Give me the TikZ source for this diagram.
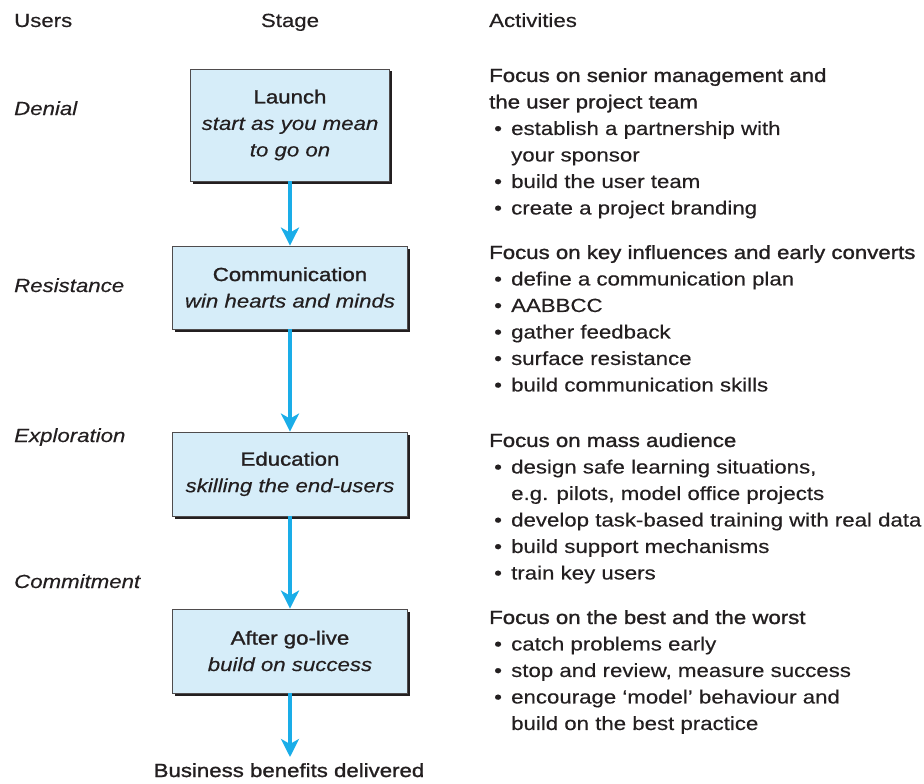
\documentclass[tikz,border=0pt]{standalone}
\usepackage{fontspec}
\setmainfont[FakeStretch=1.17,FakeBold=0.35]{Liberation Sans}
\newfontfamily\semibold[FakeStretch=1.17,FakeBold=1.3]{Liberation Sans}
\usetikzlibrary{arrows.meta,shadows}
\definecolor{stagefill}{HTML}{D6EDF9}
\definecolor{flowcyan}{HTML}{1AADE8}
\definecolor{ink}{HTML}{231F20}
\newcommand{\itm}{\hspace*{5pt}\makebox[17pt][l]{\textbullet}}
\newcommand{\cnt}{\hspace*{22pt}}
\begin{document}
\begin{tikzpicture}[x=1pt,y=-1pt,>={Stealth[length=18pt,width=18pt,inset=5pt]},
  every node/.style={inner sep=0pt,text=ink,font=\fontsize{19}{26.5}\selectfont},
  stage/.style={draw=ink!80,line width=0.8pt,fill=stagefill,align=center,
    drop shadow={shadow xshift=2.5pt,shadow yshift=-2.5pt,fill=ink,opacity=1}},
  users/.style={anchor=base west,font=\fontsize{19}{26.5}\selectfont\itshape},
  activity/.style={anchor=north west,align=left},
  flow/.style={draw=flowcyan,line width=3.2pt}]
\useasboundingbox (0,0) rectangle (924,784);
% column heads
\node[anchor=base west] (usershead) at (14,27) {Users};
\node[anchor=base] (stagehead) at (290,27) {Stage};
\node[anchor=base west] (acthead) at (489,27) {Activities};
% user attitudes
\node[users] (denial) at (14,115) {Denial};
\node[users] (resist) at (14,292) {Resistance};
\node[users] (explore) at (14,442) {Exploration};
\node[users] (commit) at (14,588) {Commitment};
% stages
\node[stage,minimum width=199pt,minimum height=112pt] (launch) at (290,125)
  {{\semibold Launch}\\\itshape start as you mean\\\itshape to go on};
\node[stage,minimum width=235pt,minimum height=83pt] (comm) at (290,287.5)
  {{\semibold Communication}\\\itshape win hearts and minds};
\node[stage,minimum width=235pt,minimum height=84pt] (educ) at (290,474)
  {{\semibold Education}\\\itshape skilling the end-users};
\node[stage,minimum width=235pt,minimum height=84pt] (golive) at (290,651)
  {{\semibold After go-live}\\\itshape build on success};
\node[anchor=base] (benefit) at (289,777) {\semibold Business benefits delivered};
\coordinate (benefittop) at (290,757);
\draw[flow,->] (launch) -- (comm);
\draw[flow,->] (comm) -- (educ);
\draw[flow,->] (educ) -- (golive);
\draw[flow,->] (golive) -- (benefittop);
% activities
\node[activity] (act1) at (489,68) {{\semibold Focus on senior management and}\\
  {\semibold the user project team}\\
  \itm establish a partnership with\\
  \cnt your sponsor\\
  \itm build the user team\\
  \itm create a project branding};
\node[activity] (act2) at (489,245) {{\semibold Focus on key influences and early converts}\\
  \itm define a communication plan\\
  \itm AABBCC\\
  \itm gather feedback\\
  \itm surface resistance\\
  \itm build communication skills};
\node[activity] (act3) at (489,433) {{\semibold Focus on mass audience}\\
  \itm design safe learning situations,\\
  \cnt e.g. pilots, model office projects\\
  \itm develop task-based training with real data\\
  \itm build support mechanisms\\
  \itm train key users};
\node[activity] (act4) at (489,610) {{\semibold Focus on the best and the worst}\\
  \itm catch problems early\\
  \itm stop and review, measure success\\
  \itm encourage `model' behaviour and\\
  \cnt build on the best practice};
\end{tikzpicture}
\end{document}
